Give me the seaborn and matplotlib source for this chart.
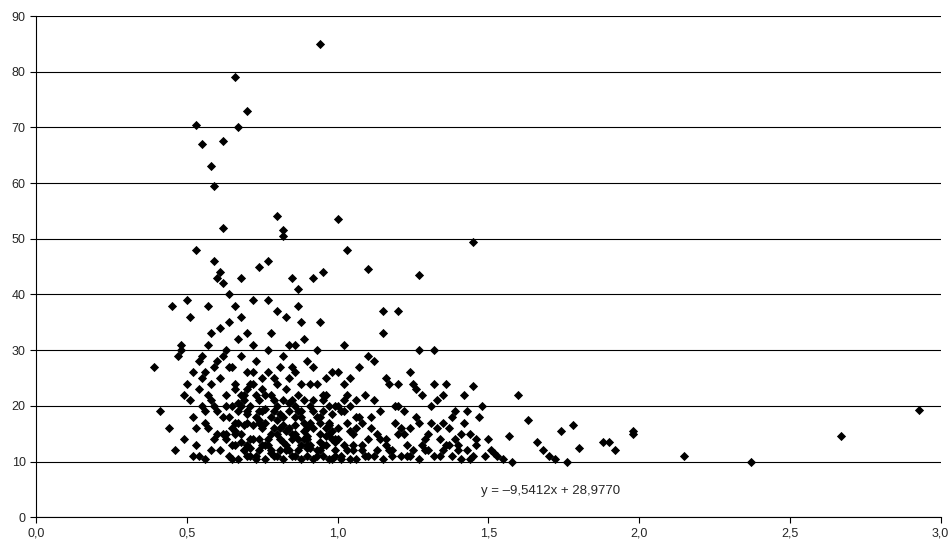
import matplotlib
matplotlib.use("Agg")
import matplotlib.pyplot as plt
import seaborn as sns
import pandas as pd
from matplotlib.ticker import FuncFormatter

# values (estimated)
x_outer = [0.39, 0.41, 0.53, 0.55, 0.58, 0.59, 0.62, 0.66, 0.67, 0.70, 0.94, 0.80, 0.82, 1.00, 1.03,
           1.10, 1.45, 1.27, 2.15, 2.37, 2.67, 2.93, 1.98, 1.90, 1.78, 1.74, 1.60, 1.63, 1.66, 1.70,
           1.55, 1.52, 1.48, 1.45, 1.35, 1.32, 1.27, 1.20, 1.15, 0.62, 0.50, 0.45, 0.48, 0.44, 0.46,
           1.98, 1.92, 1.88, 1.80, 1.76, 1.72, 1.68, 1.58, 1.57, 0.82, 0.77, 0.85, 0.87, 0.92, 0.95]
y_outer = [27, 19, 70.5, 67, 63, 59.5, 67.5, 79, 70, 73, 85, 54, 51.5, 53.5, 48,
           44.5, 49.5, 43.5, 11, 10, 14.5, 19.3, 15, 13.5, 16.5, 15.5, 22, 17.5, 13.5, 11,
           10.5, 11.5, 20, 23.5, 22, 30, 30, 37, 37, 52, 39, 38, 30, 16, 12,
           15.5, 12, 13.5, 12.5, 10, 10.5, 12, 10, 14.5, 50.5, 46, 43, 41, 43, 44]

x_a = [0.47, 0.48, 0.49, 0.50, 0.51, 0.52, 0.52, 0.53, 0.54, 0.55,
       0.55, 0.56, 0.57, 0.57, 0.58, 0.58, 0.59, 0.59, 0.60, 0.60,
       0.51, 0.53, 0.54, 0.56, 0.57, 0.58, 0.59, 0.60, 0.52, 0.55,
       0.56, 0.58, 0.60, 0.57, 0.54, 0.49, 0.53, 0.56, 0.59, 0.61]
y_a = [29, 31, 14, 24, 21, 18, 26, 48, 11, 29,
       20, 10.5, 16, 22, 33, 12, 27, 46, 43, 19,
       36, 13, 23, 17, 31, 24, 14, 28, 11, 25,
       19, 21, 15, 38, 28, 22, 16, 26, 20, 44]

x_b = [0.61, 0.61, 0.62, 0.62, 0.63, 0.63, 0.63, 0.64, 0.64, 0.65,
       0.65, 0.65, 0.66, 0.66, 0.66, 0.67, 0.67, 0.68, 0.68, 0.68,
       0.69, 0.69, 0.70, 0.70, 0.70, 0.71, 0.71, 0.72, 0.72, 0.72,
       0.73, 0.73, 0.74, 0.74, 0.74, 0.75, 0.75, 0.61, 0.62, 0.63,
       0.64, 0.65, 0.66, 0.67, 0.68, 0.69, 0.70, 0.71, 0.72, 0.73,
       0.74, 0.75, 0.62, 0.64, 0.66, 0.68, 0.70, 0.72, 0.74, 0.63,
       0.65, 0.67, 0.69, 0.71, 0.73, 0.75, 0.64, 0.66, 0.68, 0.70]
y_b = [12, 25, 18, 42, 14, 22, 30, 11, 35, 16,
       20, 27, 13, 24, 38, 10.5, 19, 15, 29, 43,
       12, 22, 17, 26, 33, 11, 20, 14, 24, 31,
       18, 28, 12, 21, 45, 16, 25, 34, 15, 20,
       27, 10.5, 17, 32, 22, 12, 19, 14, 26, 11,
       17, 23, 29, 40, 23, 36, 13, 39, 19, 15,
       13, 17, 21, 24, 10.5, 13, 18, 15, 20, 11]

x_c = [0.76, 0.76, 0.77, 0.77, 0.78, 0.78, 0.79, 0.79, 0.80, 0.80,
       0.81, 0.81, 0.82, 0.82, 0.83, 0.83, 0.84, 0.84, 0.85, 0.85,
       0.86, 0.86, 0.87, 0.87, 0.88, 0.88, 0.89, 0.89, 0.90, 0.90,
       0.91, 0.91, 0.92, 0.92, 0.93, 0.93, 0.94, 0.94, 0.95, 0.95,
       0.96, 0.96, 0.97, 0.97, 0.98, 0.98, 0.99, 0.99, 0.76, 0.78,
       0.80, 0.82, 0.84, 0.86, 0.88, 0.90, 0.92, 0.94, 0.96, 0.98,
       0.77, 0.79, 0.81, 0.83, 0.85, 0.87, 0.89, 0.91, 0.93, 0.95,
       0.97, 0.99, 0.76, 0.79, 0.82, 0.85, 0.88, 0.91, 0.94, 0.97,
       0.78, 0.81, 0.84, 0.87, 0.90, 0.93, 0.96, 0.99, 0.80, 0.86,
       0.77, 0.83, 0.89, 0.95, 0.80, 0.84, 0.88, 0.92, 0.86, 0.90]
y_c = [10.5, 22, 14, 30, 18, 12, 25, 16, 11, 20,
       14, 27, 10.5, 18, 23, 13, 16, 31, 11, 21,
       15, 26, 12, 19, 10.5, 24, 14, 17, 11, 28,
       13, 20, 10.5, 16, 24, 12, 15, 35, 11, 19,
       13, 22, 10.5, 17, 14, 26, 12, 20, 17, 33,
       24, 29, 12, 18, 35, 14, 21, 12, 16, 10.5,
       26, 19, 16, 12, 27, 14, 21, 17, 30, 13,
       15, 11, 13, 11, 21, 15, 13, 24, 18, 20,
       22, 12, 19, 38, 16, 11, 25, 14, 37, 31,
       39, 36, 32, 22, 15, 25, 19, 27, 11, 13]

# extra points in the densest part of the cloud
x_dense = [0.66, 0.68, 0.70, 0.72, 0.74, 0.76, 0.78, 0.80, 0.82, 0.84,
           0.86, 0.88, 0.90, 0.92, 0.94, 0.96, 0.98, 1.00, 1.02, 1.04,
           0.67, 0.69, 0.71, 0.73, 0.75, 0.77, 0.79, 0.81, 0.83, 0.85,
           0.87, 0.89, 0.91, 0.93, 0.95, 0.97, 0.99, 1.01, 1.03, 1.05,
           0.70, 0.74, 0.78, 0.82, 0.86, 0.90, 0.94, 0.98, 1.02, 1.06]
y_dense = [15.5, 13.5, 18.5, 16.5, 14, 19.5, 15, 17.5, 13.5, 20.5,
           16.5, 18, 14.5, 19, 17, 14.5, 18.5, 16, 13, 15.5,
           20.5, 16.5, 12.5, 22, 19, 13, 21, 18.5, 15.5, 14,
           22, 15.5, 12.5, 18, 21, 16.5, 13.5, 19, 17, 12,
           23, 17.5, 11.5, 16.5, 20, 12.5, 13.5, 15.5, 21, 18]

x_d = [1.00, 1.01, 1.02, 1.03, 1.04, 1.05, 1.06, 1.07, 1.08, 1.09,
       1.10, 1.11, 1.12, 1.13, 1.14, 1.15, 1.16, 1.17, 1.18, 1.19,
       1.20, 1.21, 1.22, 1.23, 1.24, 1.25, 1.26, 1.27, 1.28, 1.29,
       1.00, 1.02, 1.04, 1.06, 1.08, 1.10, 1.12, 1.14, 1.16, 1.18,
       1.20, 1.22, 1.24, 1.26, 1.28, 1.01, 1.03, 1.05, 1.07, 1.09,
       1.11, 1.13, 1.15, 1.17, 1.19, 1.21, 1.23, 1.25, 1.27, 1.29,
       1.00, 1.04, 1.08, 1.12, 1.16, 1.20, 1.24, 1.02, 1.06, 1.10]
y_d = [14, 11, 19, 12, 25, 15, 10.5, 18, 13, 22,
       11, 16, 28, 12, 19, 10.5, 14, 24, 12, 17,
       20, 11, 15, 13, 26, 12, 18, 10.5, 22, 14,
       26, 31, 20, 16, 12, 29, 21, 14, 25, 11,
       15, 19, 11, 23, 13, 10.5, 22, 13, 27, 11,
       18, 15, 33, 12, 20, 16, 11, 24, 17, 12,
       20, 10.5, 17, 11, 13, 24, 16, 24, 21, 14]

x_e = [1.30, 1.31, 1.32, 1.33, 1.34, 1.35, 1.36, 1.37, 1.38, 1.39,
       1.40, 1.41, 1.42, 1.43, 1.44, 1.46, 1.47, 1.49, 1.50, 1.51,
       1.53, 1.30, 1.32, 1.34, 1.36, 1.38, 1.40, 1.42, 1.44, 1.46,
       1.33, 1.37, 1.41, 1.45, 1.31, 1.35, 1.39, 1.43]
y_e = [12, 17, 11, 21, 14, 12, 24, 16, 11, 19,
       13, 10.5, 17, 12, 15, 13, 18, 11, 14, 12,
       11, 15, 24, 11, 13, 18, 12, 22, 10.5, 14,
       16, 13, 15, 11, 20, 17, 14, 19]

df = pd.DataFrame({
    "x": x_outer + x_a + x_b + x_c + x_dense + x_d + x_e,
    "y": y_outer + y_a + y_b + y_c + y_dense + y_d + y_e,
})

sns.set_style("white")
plt.rcParams["font.family"] = ["Liberation Sans", "DejaVu Sans"]

fig = plt.figure(figsize=(9.51, 5.52), dpi=100)
ax = fig.add_axes([0.038, 0.063, 0.951, 0.908])
sns.scatterplot(data=df, x="x", y="y", marker="D", s=22, color="black",
                edgecolor="black", linewidth=0, ax=ax, zorder=3)

ax.set_xlim(0, 3.0)
ax.set_ylim(0, 90)
ax.set_xticks([0, 0.5, 1.0, 1.5, 2.0, 2.5, 3.0])
ax.set_yticks(range(0, 91, 10))
ax.xaxis.set_major_formatter(FuncFormatter(lambda v, p: f"{v:.1f}".replace(".", ",")))
ax.yaxis.grid(True, color="black", linewidth=0.8)
ax.set_axisbelow(True)
for side in ["top", "right"]:
    ax.spines[side].set_visible(False)
ax.spines["left"].set_color("black")
ax.spines["bottom"].set_color("black")
ax.tick_params(axis="both", labelsize=9, length=4, direction="out", color="black",
               left=True, bottom=True)
ax.set_xlabel("")
ax.set_ylabel("")

ax.text(1.706, 4.7, "y = \u20139,5412x + 28,9770", ha="center", va="center", fontsize=9.5)

fig.savefig("out.png", dpi=100)
